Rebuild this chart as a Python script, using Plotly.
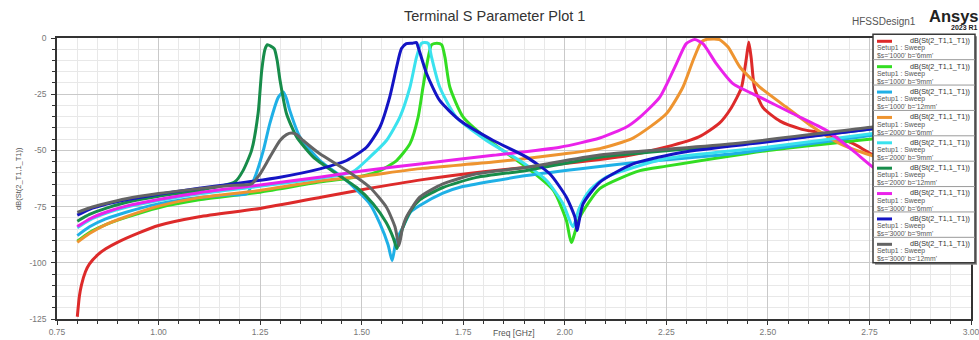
import plotly.graph_objects as go

# ---------------- data ----------------
freq_s1000_b6 = [0.80, 0.805, 0.81, 0.82, 0.83, 0.85, 0.87, 0.90, 0.95, 1.00, 1.10, 1.25, 1.40, 1.50, 1.65, 1.80,
                 2.00, 2.15, 2.25, 2.33, 2.38, 2.41, 2.435, 2.447, 2.453, 2.459, 2.467, 2.488, 2.53, 2.58, 2.64,
                 2.71, 2.76, 2.85, 3.00]
db_s1000_b6 = [-124, -115, -110, -104, -100.5, -96.5, -93.8, -90.8, -86.8, -83.4, -79.5, -75.8, -70.8, -67.5, -63,
               -59.5, -55.8, -52.5, -48.5, -44, -38, -31, -22, -9, -1.8, -9, -22, -31, -37, -40.4, -42.6,
               -47, -52, -57, -62]

freq_s1000_b9 = [0.80, 0.83, 0.87, 0.92, 1.00, 1.10, 1.25, 1.40, 1.50, 1.545, 1.586, 1.619, 1.639, 1.651, 1.664,
                 1.672, 1.685, 1.697, 1.705, 1.717, 1.75, 1.824, 1.906, 1.972, 2.004, 2.016, 2.037, 2.086, 2.185,
                 2.25, 2.50, 2.76, 3.00]
db_s1000_b9 = [-90.4, -86.5, -83, -79.8, -75.5, -72, -68.6, -64, -61.5, -59, -54.5, -47, -35.2, -21.8, -8.5,
               -3, -2.3, -3, -8.5, -21.8, -35.2, -47, -57.5, -67.8, -81.2, -91, -79.7, -67, -59,
               -57, -50, -44.8, -40]

freq_s1000_b12 = [0.80, 0.83, 0.87, 0.92, 1.00, 1.10, 1.17, 1.217, 1.237, 1.258, 1.274, 1.295, 1.307, 1.315, 1.323,
                  1.348, 1.397, 1.463, 1.52, 1.545, 1.565, 1.575, 1.585, 1.602, 1.62, 1.643, 1.70, 1.742, 1.906,
                  2.07, 2.185, 2.414, 2.759, 3.00]
db_s1000_b12 = [-87.9, -84, -80.5, -77.5, -73.8, -71, -69.8, -69.3, -62, -50, -38, -26.3, -24, -27, -32.2,
                -44, -54.5, -63.4, -73.8, -82.6, -92, -99, -90, -84, -77.5, -74.5, -69, -66.4, -61.2,
                -57.5, -55.2, -51.5, -43.3, -38]

freq_s2000_b6 = [0.80, 0.83, 0.87, 0.92, 1.00, 1.10, 1.25, 1.40, 1.50, 1.65, 1.824, 2.00, 2.086, 2.168, 2.25, 2.291,
                 2.316, 2.336, 2.348, 2.365, 2.381, 2.402, 2.431, 2.48, 2.545, 2.611, 2.677, 2.742, 2.85, 3.00]
db_s2000_b6 = [-90.9, -87, -83, -79.5, -74.8, -71, -67.8, -63.5, -61.5, -58, -55.2, -51.5, -49.2, -44.5, -33.7, -21.8,
               -9.9, -1.8, -0.7, -0.5, -0.7, -4, -12.9, -21.8, -30.7, -39.6, -47, -51.5, -57, -62]

freq_s2000_b9 = [0.80, 0.83, 0.87, 0.92, 1.00, 1.10, 1.25, 1.40, 1.479, 1.52, 1.561, 1.594, 1.619, 1.635, 1.647,
                 1.655, 1.664, 1.672, 1.692, 1.733, 1.807, 1.889, 1.955, 1.996, 2.020, 2.035, 2.06, 2.102, 2.25,
                 2.496, 2.759, 3.00]
db_s2000_b9 = [-84.4, -81, -78, -75.3, -72.3, -69.3, -65.9, -62.3, -59.4, -53, -45.6, -35.2, -21.8, -8.5, -2.4,
               -2.0, -2.4, -8.5, -21.8, -35.2, -45.6, -54.5, -63.4, -73.8, -84, -76, -68, -61.9, -53.6,
               -48.6, -42.5, -37]

freq_s2000_b12 = [0.80, 0.83, 0.87, 0.92, 1.00, 1.10, 1.188, 1.208, 1.229, 1.245, 1.254, 1.262, 1.268, 1.276,
                  1.285, 1.292, 1.299, 1.315, 1.34, 1.381, 1.438, 1.487, 1.528, 1.56, 1.578, 1.587, 1.60, 1.62,
                  1.643, 1.70, 1.783, 1.906, 2.086, 2.414, 2.759, 3.00]
db_s2000_b12 = [-81.5, -78.5, -75.8, -73.2, -70.4, -67.8, -64, -59, -50, -33.6, -14.4, -5, -3, -3.6,
                -4.8, -10, -18.8, -33.7, -44, -53, -60.4, -66.4, -73.7, -82, -89, -93.8, -85, -77,
                -72, -66.5, -62, -58.9, -53, -47.5, -40.4, -35]

freq_s3000_b6 = [0.80, 0.83, 0.87, 0.92, 1.00, 1.10, 1.25, 1.40, 1.50, 1.643, 1.824, 1.988, 2.086, 2.152, 2.185,
                 2.234, 2.275, 2.299, 2.320, 2.340, 2.373, 2.414, 2.48, 2.562, 2.644, 2.709, 2.759, 2.85, 3.00]
db_s3000_b6 = [-83.9, -80.5, -77.5, -74.8, -71.8, -68.8, -65.4, -61.8, -59.2, -56, -52.2, -48.6, -44.5, -39.6, -35.2,
               -26.3, -11.4, -2.5, -0.7, -2.5, -11.4, -20.3, -26.3, -33.7, -41.1, -50, -57.5, -68, -78]

freq_s3000_b9 = [0.80, 0.83, 0.87, 0.92, 1.00, 1.10, 1.184, 1.299, 1.397, 1.463, 1.512, 1.545, 1.569, 1.586, 1.598,
                 1.610, 1.625, 1.635, 1.639, 1.66, 1.692, 1.742, 1.824, 1.906, 1.963, 2.004, 2.025, 2.030, 2.045,
                 2.086, 2.168, 2.291, 2.496, 2.759, 3.00]
db_s3000_b9 = [-78.8, -76.2, -74, -72, -69.5, -66.8, -64.9, -61.9, -58.2, -54.5, -48.6, -39.6, -26.3, -12.9, -4.7,
               -2.5, -2.3, -2.0, -4, -15.9, -27.8, -36.7, -45.6, -53, -60.4, -70.8, -79.7, -85.6, -73.8,
               -64.2, -56, -50.8, -46.3, -40.4, -35.5]

freq_s3000_b12 = [0.80, 0.83, 0.87, 0.92, 1.00, 1.10, 1.176, 1.229, 1.25, 1.274, 1.299, 1.315, 1.327, 1.34, 1.356,
                  1.397, 1.463, 1.52, 1.561, 1.582, 1.592, 1.60, 1.61, 1.643, 1.70, 1.783, 1.906, 2.086, 2.414,
                  2.759, 3.00]
db_s3000_b12 = [-77.6, -75.6, -73.6, -71.5, -69.2, -67, -65.6, -64.9, -60.4, -53, -45.6, -43, -42.3, -43, -45.6,
                -51.5, -58.9, -66.4, -75.3, -84, -92.3, -85, -79.7, -70.8, -64.9, -60.4, -57.5, -52, -47,
                -39.6, -34.5]

series_s = ["1000", "1000", "1000", "2000", "2000", "2000", "3000", "3000", "3000"]
series_b = ["6mm", "9mm", "12mm", "6mm", "9mm", "12mm", "6mm", "9mm", "12mm"]
series_freq = [freq_s1000_b6, freq_s1000_b9, freq_s1000_b12, freq_s2000_b6, freq_s2000_b9,
               freq_s2000_b12, freq_s3000_b6, freq_s3000_b9, freq_s3000_b12]
series_db = [db_s1000_b6, db_s1000_b9, db_s1000_b12, db_s2000_b6, db_s2000_b9,
             db_s2000_b12, db_s3000_b6, db_s3000_b9, db_s3000_b12]
trace_label = "dB(St(2_T1,1_T1))"
setup_label = "Setup1 : Sweep"

x_ticks = [0.75, 1.00, 1.25, 1.50, 1.75, 2.00, 2.25, 2.50, 2.75, 3.00]
x_tick_text = ["0.75", "1.00", "1.25", "1.50", "1.75", "2.00", "2.25", "2.50", "2.75", "3.00"]
y_ticks = [0, -25, -50, -75, -100, -125]
y_tick_text = ["0", "-25", "-50", "-75", "-100", "-125"]

# ---------------- styling ----------------
colors = ["#dd2a2a", "#33dd22", "#1fb0e6", "#ee9430", "#3ae2ee", "#178c4a", "#ea22ea", "#1414c4", "#646464"]
FONT = "Arial, Liberation Sans, sans-serif"
W, H = 979, 340
ML, MR, MT, MB = 57, 8, 38, 21
PW, PH = W - ML - MR, H - MT - MB


def xp(px):
    return (px - ML) / PW


def yp(py):
    return (H - MB - py) / PH


fig = go.Figure()
for f, d, c, s, b in zip(series_freq, series_db, colors, series_s, series_b):
    fig.add_trace(go.Scatter(x=f, y=d, mode="lines",
                             line=dict(color=c, width=3, shape="spline", smoothing=0.6),
                             name=f"{trace_label} s={s} b={b}", showlegend=False,
                             hoverinfo="x+y"))

shapes = []
annotations = []

# custom legend box (Ansys style)
lg_l, lg_r, lg_t, lg_b = 873, 975, 34.3, 262.7
shapes.append(dict(type="rect", xref="paper", yref="paper", x0=xp(lg_l + 2), x1=xp(lg_r + 2),
                   y0=yp(lg_b + 2), y1=yp(lg_t + 2), fillcolor="#8a8a8a", line=dict(width=0), layer="above"))
shapes.append(dict(type="rect", xref="paper", yref="paper", x0=xp(lg_l), x1=xp(lg_r),
                   y0=yp(lg_b), y1=yp(lg_t), fillcolor="white", line=dict(color="#3a3a3a", width=1.5),
                   layer="above"))
n = len(series_s)
step = (lg_b - lg_t) / n
LF = 6.8
for i in range(n):
    top = lg_t + i * step
    if i > 0:
        shapes.append(dict(type="line", xref="paper", yref="paper", x0=xp(lg_l), x1=xp(lg_r),
                           y0=yp(top), y1=yp(top), line=dict(color="#9a9a9a", width=1), layer="above"))
    shapes.append(dict(type="line", xref="paper", yref="paper", x0=xp(877), x1=xp(892),
                       y0=yp(top + 7.0), y1=yp(top + 7.0), line=dict(color=colors[i], width=3), layer="above"))
    annotations.append(dict(text=trace_label, xref="paper", yref="paper", x=xp(971), y=yp(top + 6.4),
                            xanchor="right", yanchor="middle", showarrow=False, borderpad=0,
                            font=dict(family=FONT, size=LF + 0.4, color="#333333")))
    annotations.append(dict(text=setup_label, xref="paper", yref="paper", x=xp(876), y=yp(top + 14.1),
                            xanchor="left", yanchor="middle", showarrow=False, borderpad=0,
                            font=dict(family=FONT, size=LF, color="#555555")))
    annotations.append(dict(text=f"$s='{series_s[i]}' b='{series_b[i]}'", xref="paper", yref="paper",
                            x=xp(876), y=yp(top + 21.6), xanchor="left", yanchor="middle", showarrow=False,
                            borderpad=0, font=dict(family=FONT, size=LF, color="#555555")))

# titles / branding
annotations.append(dict(text="Terminal S Parameter Plot 1", xref="paper", yref="paper", x=xp(494), y=yp(16),
                        xanchor="center", yanchor="middle", showarrow=False,
                        font=dict(family=FONT, size=14.5, color="#333333")))
annotations.append(dict(text="HFSSDesign1", xref="paper", yref="paper", x=xp(918), y=yp(21),
                        xanchor="right", yanchor="middle", showarrow=False,
                        font=dict(family=FONT, size=10, color="#555555")))
annotations.append(dict(text="<b>Ansys</b>", xref="paper", yref="paper", x=xp(928), y=yp(16),
                        xanchor="left", yanchor="middle", showarrow=False, borderpad=0,
                        font=dict(family=FONT, size=16.5, color="#222222")))
annotations.append(dict(text="<b>2023 R1</b>", xref="paper", yref="paper", x=xp(950), y=yp(28),
                        xanchor="left", yanchor="middle", showarrow=False, borderpad=0,
                        font=dict(family=FONT, size=7, color="#222222")))
annotations.append(dict(text="Freq [GHz]", xref="paper", yref="paper", x=xp(514), y=yp(333.5),
                        xanchor="center", yanchor="middle", showarrow=False, borderpad=0,
                        font=dict(family=FONT, size=8.5, color="#555555")))
annotations.append(dict(text="dB(St(2_T1,1_T1))", xref="paper", yref="paper", x=xp(18), y=yp(179),
                        xanchor="center", yanchor="middle", showarrow=False, textangle=-90,
                        font=dict(family=FONT, size=7.5, color="#555555")))

fig.update_layout(
    width=W, height=H, autosize=False,
    margin=dict(l=ML, r=MR, t=MT, b=MB),
    paper_bgcolor="white", plot_bgcolor="white",
    font=dict(family=FONT),
    showlegend=False,
    shapes=shapes, annotations=annotations,
    xaxis=dict(range=[0.75, 3.0], tickvals=x_ticks, ticktext=x_tick_text, automargin=False,
               ticklabeloverflow="allow",
               showline=True, mirror=True, linecolor="#333333", linewidth=1.5,
               ticks="outside", ticklen=4, tickcolor="#333333",
               showgrid=True, gridcolor="#c9c9c9", gridwidth=1, zeroline=False,
               tickfont=dict(family=FONT, size=8.5, color="#777777"),
               minor=dict(dtick=0.05, tick0=0.75, showgrid=True, gridcolor="#e8e8e8",
                          ticks="outside", ticklen=3, tickcolor="#333333")),
    yaxis=dict(range=[-125, 0], tickvals=y_ticks, ticktext=y_tick_text, automargin=False,
               ticklabeloverflow="allow",
               showline=True, mirror=True, linecolor="#333333", linewidth=1.5,
               ticks="outside", ticklen=4, tickcolor="#333333",
               showgrid=True, gridcolor="#c9c9c9", gridwidth=1, zeroline=False,
               tickfont=dict(family=FONT, size=8.5, color="#777777"),
               ticklabelstandoff=3,
               minor=dict(dtick=5, tick0=0, showgrid=True, gridcolor="#e8e8e8",
                          ticks="outside", ticklen=3, tickcolor="#333333")),
)

fig.write_html(
    "out.html",
    config={"displayModeBar": False},
    post_script=("document.body.style.margin='0';document.body.style.padding='0';"
                 "document.documentElement.style.overflow='hidden';"),
)
